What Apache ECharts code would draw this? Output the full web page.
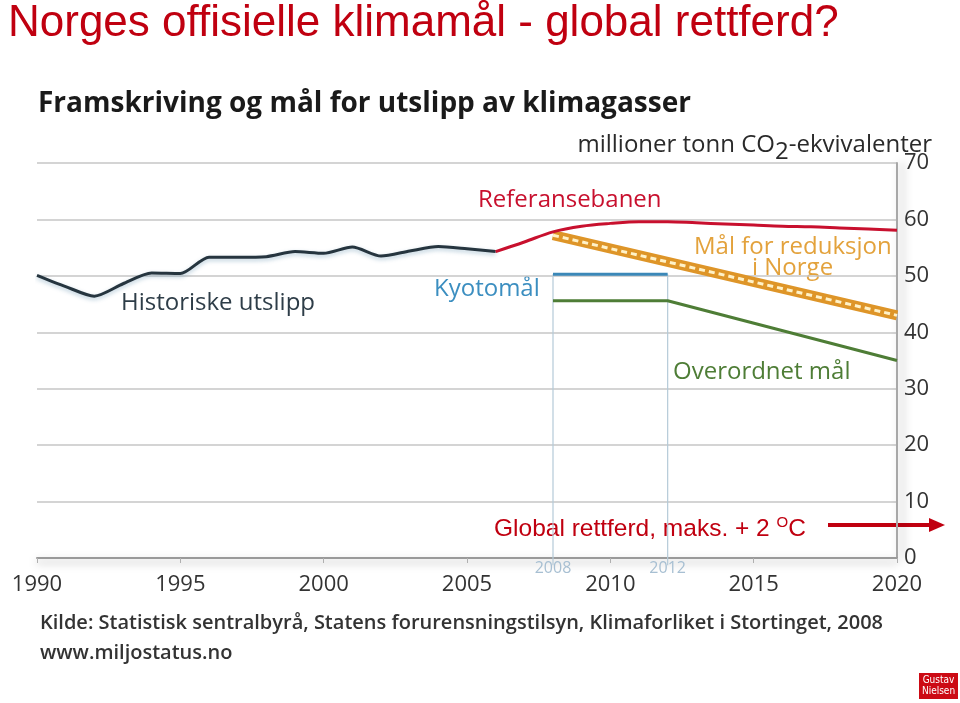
<!DOCTYPE html>
<html>
<head>
<meta charset="utf-8">
<script src="https://cdn.jsdelivr.net/npm/echarts@6/dist/echarts.min.js"></script>
<style>
html,body{margin:0;padding:0;background:#fff;}
#chart{width:960px;height:703px;}
</style>
</head>
<body>
<div id="chart"></div>
<script>
// ---- data ----
const histYears = [1990,1991,1992,1993,1994,1995,1996,1997,1998,1999,2000,2001,2002,2003,2004,2005,2006];
const histValues = [50.1,48.1,46.4,48.6,50.5,50.4,53.3,53.3,53.4,54.3,54.0,55.1,53.5,54.4,55.2,54.8,54.3];
const refYears = [2006,2007,2008,2009,2010,2011,2012,2013,2014,2015,2016,2017,2018,2019,2020];
const refValues = [54.3,56.0,57.8,58.8,59.3,59.6,59.6,59.4,59.2,59.0,58.8,58.7,58.5,58.3,58.1];
const norgeYears = [2008,2020];
const norgeValues = [57.2,43.0];
const kyotoYears = [2008,2012];
const kyotoValues = [50.3,50.3];
const overYears = [2008,2012,2020];
const overValues = [45.6,45.6,35.0];
const markedYears = [2008,2012];
const yTicks = [0,10,20,30,40,50,60,70];
const xTicks = [1990,1995,2000,2005,2010,2015,2020];

const zip = (xs, ys) => xs.map((x,i)=>[x, ys[i]]);
const FONT = '"Open Sans", "Noto Sans", sans-serif';
const ARIAL = '"Liberation Sans", Arial, sans-serif';

const chart = echarts.init(document.getElementById('chart'), null, {renderer:'canvas'});

const lineBase = {type:'line', symbol:'none', silent:true, animation:false, xAxisIndex:0, yAxisIndex:0};

const series = [
  Object.assign({}, lineBase, {
    name:'Historiske utslipp', data: zip(histYears, histValues), smooth:0.25, z:5,
    lineStyle:{color:'#26353f', width:3, shadowColor:'rgba(90,140,170,0.45)', shadowBlur:4, shadowOffsetY:2}
  }),
  Object.assign({}, lineBase, {
    name:'Referansebanen', data: zip(refYears, refValues), smooth:0.35, z:5,
    lineStyle:{color:'#c8102e', width:3}
  }),
  Object.assign({}, lineBase, {
    name:'Mål for reduksjon i Norge', data: zip(norgeYears, norgeValues), z:4,
    lineStyle:{color:'#de9528', width:10}
  }),
  Object.assign({}, lineBase, {
    name:'Mål hatch', data: zip(norgeYears, norgeValues), z:4,
    lineStyle:{color:'#fff2c8', width:3, type:[6,4]}
  }),
  Object.assign({}, lineBase, {
    name:'Kyotomål', data: zip(kyotoYears, kyotoValues), z:4,
    lineStyle:{color:'#3b88b8', width:3}
  }),
  Object.assign({}, lineBase, {
    name:'Overordnet mål', data: zip(overYears, overValues), z:4,
    lineStyle:{color:'#4e7d36', width:3}
  })
];
markedYears.forEach(yr => {
  series.push(Object.assign({}, lineBase, {
    name:'v'+yr, data:[[yr,-1.3],[yr, kyotoValues[0]]], clip:false, z:3,
    lineStyle:{color:'#b4cad8', width:1.2}
  }));
});

const option = {
  backgroundColor:'#ffffff',
  animation:false,
  grid:{left:37, right:63, top:163, bottom:145, containLabel:false},
  xAxis:[
    {
      type:'value', min:xTicks[0], max:xTicks[xTicks.length-1], interval:5,
      axisLine:{show:true, lineStyle:{color:'#9a9a9a', width:2, shadowColor:'rgba(0,0,0,0.35)', shadowBlur:8, shadowOffsetY:4}},
      axisTick:{show:true, length:5, lineStyle:{color:'#b0b0b0', width:1}},
      axisLabel:{color:'#333', fontSize:22, fontFamily:FONT, margin:16, formatter: v => String(v)},
      splitLine:{show:false}
    },
    {
      type:'value', min:xTicks[0], max:xTicks[xTicks.length-1], interval:1, position:'bottom',
      axisLine:{show:false}, axisTick:{show:false}, splitLine:{show:false},
      axisLabel:{color:'#a7bfd2', fontSize:16, fontFamily:FONT, margin:2,
        formatter: v => markedYears.indexOf(v) >= 0 ? String(v) : ''}
    }
  ],
  yAxis:{
    type:'value', position:'right', min:yTicks[0], max:yTicks[yTicks.length-1], interval:10,
    axisLine:{show:true, lineStyle:{color:'#a8a8a8', width:2, shadowColor:'rgba(0,0,0,0.35)', shadowBlur:10, shadowOffsetX:5}},
    axisTick:{show:false},
    axisLabel:{color:'#333', fontSize:22, fontFamily:FONT, margin:7},
    splitLine:{show:true, lineStyle:{color:'#c6c6c6', width:1.5}}
  },
  series: series,
  graphic:[
    {type:'text', x:8, y:24, silent:true, style:{text:'Norges offisielle klimamål - global rettferd?', fill:'#c00010', font:'44px '+ARIAL, verticalAlign:'middle'}},
    {type:'text', x:38, y:104, silent:true, style:{text:'Framskriving og mål for utslipp av klimagasser', fill:'#1a1a1a', font:'bold 28px '+FONT, verticalAlign:'middle'}},
    {type:'text', x:932, y:145, silent:true, style:{
      text:'millioner tonn CO{sub|2}-ekvivalenter', fill:'#2a2a2a', font:'24px '+FONT, align:'right', verticalAlign:'middle',
      rich:{sub:{fontSize:24, fontFamily:FONT, fill:'#2a2a2a', padding:[14,0,0,0]}}}},
    {type:'text', x:478, y:200, silent:true, style:{text:'Referansebanen', fill:'#c8102e', font:'24px '+FONT, verticalAlign:'middle'}},
    {type:'text', x:121, y:303, silent:true, style:{text:'Historiske utslipp', fill:'#2e3d48', font:'24px '+FONT, verticalAlign:'middle'}},
    {type:'text', x:434, y:289, silent:true, style:{text:'Kyotomål', fill:'#3b8ec0', font:'24px '+FONT, verticalAlign:'middle'}},
    {type:'text', x:694, y:247, silent:true, style:{text:'Mål for reduksjon', fill:'#e3a23c', font:'24px '+FONT, verticalAlign:'middle'}},
    {type:'text', x:752, y:268, silent:true, style:{text:'i Norge', fill:'#e3a23c', font:'24px '+FONT, verticalAlign:'middle'}},
    {type:'text', x:673, y:372, silent:true, style:{text:'Overordnet mål', fill:'#4e7d36', font:'24px '+FONT, verticalAlign:'middle'}},
    {type:'text', x:494, y:529, silent:true, style:{
      text:'Global rettferd, maks. + 2 {sup|O}C', fill:'#c00010', font:'24.5px '+ARIAL, verticalAlign:'middle',
      rich:{sup:{fontSize:15, fontFamily:ARIAL, fill:'#c00010', padding:[0,0,12,0]}}}},
    {type:'line', silent:true, shape:{x1:828, y1:525, x2:932, y2:525}, style:{stroke:'#c00010', lineWidth:4}},
    {type:'polygon', silent:true, shape:{points:[[929,518],[945,525],[929,532]]}, style:{fill:'#c00010'}},
    {type:'text', x:40, y:623, silent:true, style:{text:'Kilde: Statistisk sentralbyrå, Statens forurensningstilsyn, Klimaforliket i Stortinget, 2008', fill:'#333', font:'600 20px '+FONT, verticalAlign:'middle'}},
    {type:'text', x:40, y:653, silent:true, style:{text:'www.miljostatus.no', fill:'#333', font:'600 20px '+FONT, verticalAlign:'middle'}},
    {type:'rect', silent:true, shape:{x:919, y:673, width:39, height:26}, style:{fill:'#cc0a14'}},
    {type:'text', x:938.5, y:680, silent:true, style:{text:'Gustav', fill:'#fff', font:'10px "DejaVu Sans Condensed", "Liberation Sans Narrow", "Liberation Sans", sans-serif', align:'center', verticalAlign:'middle'}},
    {type:'text', x:938.5, y:691, silent:true, style:{text:'Nielsen', fill:'#fff', font:'10px "DejaVu Sans Condensed", "Liberation Sans Narrow", "Liberation Sans", sans-serif', align:'center', verticalAlign:'middle'}}
  ]
};
chart.setOption(option);
</script>
</body>
</html>
